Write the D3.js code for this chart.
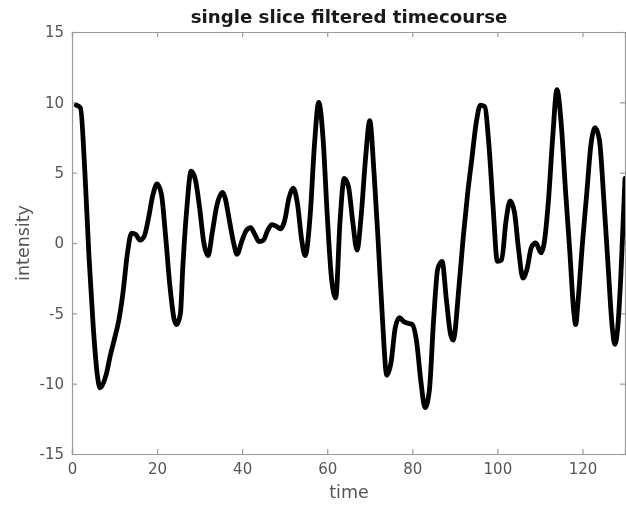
<!DOCTYPE html>
<html>
<head>
<meta charset="utf-8">
<script src="https://cdn.jsdelivr.net/npm/d3@7"></script>
<style>
  html, body { margin: 0; padding: 0; background: #fff; }
  svg { display: block; filter: blur(0.5px); }
  text { font-family: "DejaVu Sans", sans-serif; }
</style>
</head>
<body>
<svg id="chart" width="626" height="505"></svg>
<script>
const chartTitle = "single slice filtered timecourse";
const xLabel = "time";
const yLabel = "intensity";
const xTicks = [0, 20, 40, 60, 80, 100, 120];
const yTicks = [-15, -10, -5, 0, 5, 10, 15];

const time = [
  1, 2, 3, 4, 5, 6, 6.6, 8, 9, 10, 11, 12, 13, 14, 15, 16, 17, 18, 19, 20,
  21, 22, 23, 24, 24.6, 25.5, 26, 27, 28, 29, 30, 31, 32, 33, 34, 35.4, 36, 37, 38, 38.8,
  40, 41, 42, 43, 44, 45, 46, 47, 48, 49, 50, 51, 52, 53, 54, 54.8, 56, 57, 58, 59,
  60, 61, 62, 63, 64, 65, 66, 67, 68, 69, 70, 71, 72, 73, 74, 75, 76, 77, 78, 79,
  80, 81, 82, 83, 84, 85, 86, 87, 88, 89, 89.6, 91, 92, 93, 94, 95, 96, 97, 98, 99,
  100, 101, 102, 103, 104, 105, 106, 107, 108, 109, 110.3, 111, 112, 113, 114, 115, 116, 117, 118, 118.4,
  119, 120, 121, 122, 123, 124, 125, 126, 127, 127.6, 128.3, 129, 130
];
const intensity = [
  9.8, 9.6, 5.2, -1.0, -6.0, -9.5, -10.3, -9.4, -8.0, -6.8, -5.5, -3.5, -0.8, 0.7, 0.6, 0.2, 0.5, 1.8, 3.4, 4.2,
  3.5, 0.5, -3.0, -5.4, -5.8, -5.0, -2.0, 2.5, 5.1, 4.5, 2.5, 0.0, -0.9, 0.8, 2.6, 3.6, 3.2, 1.6, 0.0, -0.8,
  0.2, 0.9, 1.1, 0.6, 0.1, 0.2, 0.9, 1.3, 1.2, 1.0, 1.6, 3.2, 3.9, 2.8, 0.2, -0.9, 2.0, 7.0, 10.0, 7.5,
  2.0, -2.5, -3.9, 1.5, 4.6, 4.0, 1.5, -0.5, 2.0, 6.0, 8.7, 5.0, 0.0, -5.5, -9.4, -8.5, -6.0, -5.3, -5.6, -5.7,
  -5.8, -7.0, -9.8, -11.7, -10.5, -5.5, -1.8, -1.3, -4.0, -6.5, -6.9, -3.0, 0.5, 3.5, 6.0, 8.5, 9.8, 9.7, 7.0, 2.5,
  -1.3, -1.2, 1.5, 3.0, 2.2, -0.5, -2.5, -1.8, -0.3, 0.0, -0.7, 0.0, 3.0, 7.5, 10.9, 8.5, 3.8, -0.5, -5.0, -5.8,
  -4.0, 0.0, 3.5, 7.0, 8.2, 7.3, 3.2, -1.5, -6.0, -7.2, -6.0, -2.5, 4.6
];

const data = time.map((t, i) => ({ t, v: intensity[i] }));

const svg = d3.select("#chart");
const margin = { left: 72, right: 1, top: 32, bottom: 51 };
const W = 626, H = 505;

const x = d3.scaleLinear().domain([0, 130]).range([margin.left, W - margin.right]);
const y = d3.scaleLinear().domain([-15, 15]).range([H - margin.bottom, margin.top]);

const axisColor = "#9a9a9a";
const labelColor = "#555";

const clipId = "plotclip";
svg.append("clipPath").attr("id", clipId)
  .append("rect")
  .attr("x", margin.left).attr("y", margin.top)
  .attr("width", W - margin.right - margin.left)
  .attr("height", H - margin.bottom - margin.top);

const line = d3.line().x(d => x(d.t)).y(d => y(d.v)).curve(d3.curveMonotoneX);

const fmt = d => String(d);

const gx = svg.append("g").attr("transform", `translate(0,${y(-15)})`)
  .call(d3.axisBottom(x).tickValues(xTicks).tickSize(-5).tickPadding(9).tickFormat(fmt));
const gxTop = svg.append("g").attr("transform", `translate(0,${y(15)})`)
  .call(d3.axisTop(x).tickValues(xTicks).tickSize(-5).tickFormat(""));
const gy = svg.append("g").attr("transform", `translate(${x(0)},0)`)
  .call(d3.axisLeft(y).tickValues(yTicks).tickSize(-5).tickPadding(8).tickFormat(fmt));
const gyRight = svg.append("g").attr("transform", `translate(${x(130)},0)`)
  .call(d3.axisRight(y).tickValues(yTicks).tickSize(-5).tickFormat(""));

[gx, gxTop, gy, gyRight].forEach(g => {
  g.selectAll(".domain").attr("stroke", axisColor).attr("stroke-width", 1.2);
  g.selectAll(".tick line").attr("stroke", axisColor).attr("stroke-width", 1.2);
  g.selectAll(".tick text").attr("fill", labelColor).attr("font-size", 15)
    .attr("font-family", "DejaVu Sans, sans-serif");
});

svg.append("path")
  .datum(data)
  .attr("clip-path", `url(#${clipId})`)
  .attr("fill", "none")
  .attr("stroke", "#000")
  .attr("stroke-width", 4.8)
  .attr("stroke-linejoin", "round")
  .attr("stroke-linecap", "round")
  .attr("d", line);

svg.append("text")
  .attr("x", 349).attr("y", 23)
  .attr("text-anchor", "middle")
  .attr("font-size", 18.2).attr("font-weight", "bold").attr("fill", "#1a1a1a")
  .text(chartTitle);

svg.append("text")
  .attr("x", 349).attr("y", 498)
  .attr("text-anchor", "middle")
  .attr("font-size", 17.5).attr("fill", labelColor)
  .text(xLabel);

svg.append("text")
  .attr("transform", `translate(29,${y(0)}) rotate(-90)`)
  .attr("text-anchor", "middle")
  .attr("font-size", 17.5).attr("fill", labelColor)
  .text(yLabel);
</script>
</body>
</html>
